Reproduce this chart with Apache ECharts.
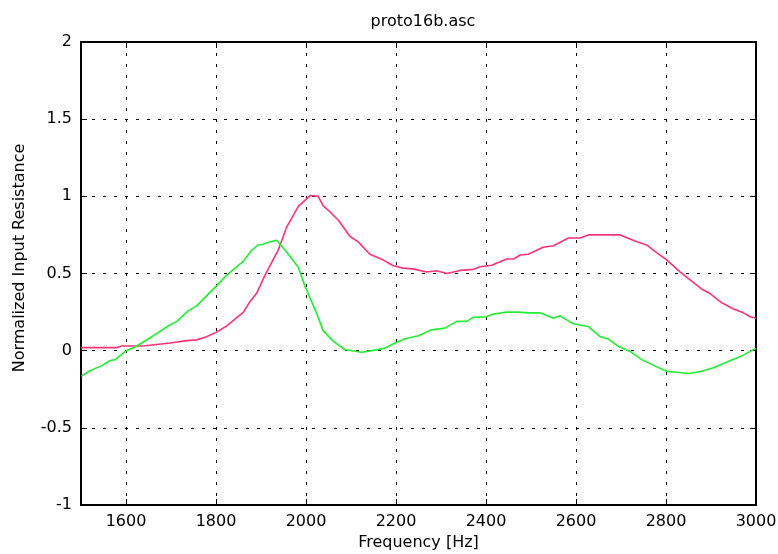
<!DOCTYPE html>
<html>
<head>
<meta charset="utf-8">
<script src="https://cdn.jsdelivr.net/npm/echarts@6/dist/echarts.min.js"></script>
<style>
  html, body { margin: 0; padding: 0; background: #fff; }
  #chart { width: 778px; height: 554px; }
</style>
</head>
<body>
<div id="chart"></div>
<script>
// frequency sweep, two traces
const redFreq = [1500, 1580, 1590, 1638, 1668, 1698, 1735, 1757, 1779, 1801, 1824, 1861, 1876, 1890, 1909, 1938,
  1957, 1983, 2009, 2027, 2038, 2053, 2072, 2098, 2116, 2142, 2172, 2194, 2216, 2238, 2268, 2290, 2313, 2342,
  2372, 2387, 2413, 2446, 2461, 2476, 2494, 2527, 2550, 2583, 2609, 2627, 2698, 2731, 2757, 2779, 2801, 2831,
  2853, 2879, 2898, 2924, 2950, 2972, 2987, 3000]
const redVal = [0.02, 0.02, 0.03, 0.03, 0.04, 0.05, 0.065, 0.07, 0.09, 0.12, 0.16, 0.25, 0.32, 0.37, 0.49, 0.65,
  0.8, 0.935, 1.005, 1.0, 0.94, 0.9, 0.845, 0.74, 0.705, 0.625, 0.587, 0.55, 0.535, 0.53, 0.51, 0.518, 0.5, 0.52,
  0.527, 0.544, 0.553, 0.594, 0.594, 0.62, 0.625, 0.67, 0.68, 0.73, 0.73, 0.75, 0.75, 0.71, 0.685, 0.635, 0.59, 0.51,
  0.46, 0.4, 0.37, 0.31, 0.27, 0.245, 0.22, 0.21]

const greenFreq = [1501, 1520, 1546, 1564, 1576, 1601, 1624, 1661, 1698, 1713, 1738, 1757, 1801, 1824, 1861, 1879,
  1894, 1905, 1920, 1935, 1957, 1983, 1998, 2024, 2038, 2061, 2087, 2124, 2150, 2176, 2198, 2220, 2250, 2279,
  2309, 2335, 2357, 2372, 2401, 2416, 2446, 2472, 2494, 2520, 2550, 2564, 2594, 2627, 2653, 2672, 2694, 2720,
  2746, 2776, 2801, 2824, 2850, 2879, 2905, 2942, 2964, 3000]
const greenVal = [-0.165, -0.13, -0.097, -0.065, -0.058, 0.0, 0.03, 0.097, 0.168, 0.19, 0.258, 0.29, 0.42, 0.49,
  0.58, 0.65, 0.685, 0.69, 0.705, 0.716, 0.64, 0.54, 0.415, 0.24, 0.13, 0.06, 0.006, -0.01, 0.002, 0.017, 0.05,
  0.077, 0.097, 0.135, 0.146, 0.19, 0.19, 0.216, 0.22, 0.237, 0.25, 0.25, 0.245, 0.245, 0.21, 0.226, 0.174, 0.157,
  0.092, 0.075, 0.028, -0.005, -0.058, -0.1, -0.134, -0.14, -0.148, -0.134, -0.11, -0.065, -0.04, 0.015]

const xTicks = [1600, 1800, 2000, 2200, 2400, 2600, 2800, 3000]

const chart = echarts.init(document.getElementById('chart'))
const font = 'DejaVu Sans, sans-serif'
const fs = 16

function toPairs (xs, ys) {
  return xs.map((x, i) => [x, ys[i]])
}

const frameLine = { color: '#000', width: 2 }
const gridDots = { color: '#000', type: [3, 8], width: 1 }

chart.setOption({
  animation: false,
  title: {
    text: 'proto16b.asc',
    left: 418,
    top: 9,
    textAlign: 'center',
    textStyle: { fontFamily: font, fontSize: fs, fontWeight: 'normal', color: '#000' }
  },
  grid: { left: 81, right: 22, top: 42, bottom: 49, outerBoundsMode: 'none' },
  graphic: [{
    type: 'text',
    x: 20,
    y: 258,
    rotation: Math.PI / 2,
    style: {
      text: 'Normalized Input Resistance',
      font: fs + 'px ' + font,
      fill: '#000',
      align: 'center',
      verticalAlign: 'middle'
    }
  }],
  xAxis: [
    {
      type: 'value',
      min: 1500,
      max: 3000,
      name: 'Frequency [Hz]',
      nameLocation: 'middle',
      nameGap: 29,
      nameTextStyle: { fontFamily: font, fontSize: fs, color: '#000' },
      axisLine: { onZero: false, lineStyle: frameLine },
      axisTick: { show: true, inside: true, length: 6, customValues: xTicks, lineStyle: { color: '#000' } },
      axisLabel: {
        customValues: xTicks,
        formatter: v => String(v),
        fontFamily: font,
        fontSize: fs,
        color: '#000',
        margin: 9
      },
      splitLine: { show: true, lineStyle: gridDots }
    },
    {
      type: 'value',
      position: 'top',
      min: 1500,
      max: 3000,
      axisLine: { onZero: false, lineStyle: frameLine },
      axisTick: { show: true, inside: true, length: 6, customValues: xTicks, lineStyle: { color: '#000' } },
      axisLabel: { show: false, customValues: xTicks },
      splitLine: { show: false }
    }
  ],
  yAxis: [
    {
      type: 'value',
      min: -1,
      max: 2,
      interval: 0.5,
      axisLine: { show: true, onZero: false, lineStyle: frameLine },
      axisTick: { show: true, inside: true, length: 6, lineStyle: { color: '#000' } },
      axisLabel: { fontFamily: font, fontSize: fs, color: '#000', margin: 9 },
      splitLine: { show: true, lineStyle: gridDots }
    },
    {
      type: 'value',
      position: 'right',
      min: -1,
      max: 2,
      interval: 0.5,
      axisLine: { show: true, onZero: false, lineStyle: frameLine },
      axisTick: { show: true, inside: true, length: 6, lineStyle: { color: '#000' } },
      axisLabel: { show: false },
      splitLine: { show: false }
    }
  ],
  series: [
    {
      type: 'line',
      data: toPairs(redFreq, redVal),
      showSymbol: false,
      lineStyle: { color: '#ff3377', width: 1.6 },
      z: 3
    },
    {
      type: 'line',
      data: toPairs(greenFreq, greenVal),
      showSymbol: false,
      lineStyle: { color: '#22ee33', width: 1.6 },
      z: 4
    }
  ]
})
</script>
</body>
</html>
